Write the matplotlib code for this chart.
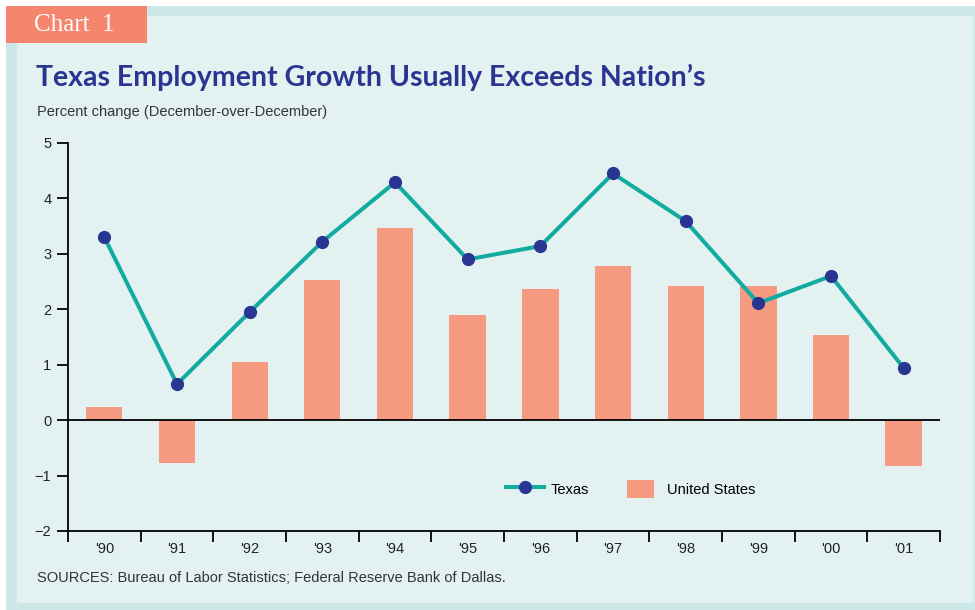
import matplotlib.pyplot as plt
from matplotlib.patches import Rectangle
from matplotlib.lines import Line2D
from matplotlib.patches import Patch
from matplotlib.legend_handler import HandlerPatch
import matplotlib.ticker as mticker

years = ["'90", "'91", "'92", "'93", "'94", "'95", "'96", "'97", "'98", "'99", "'00", "'01"]
texas = [3.30, 0.65, 1.95, 3.22, 4.29, 2.90, 3.14, 4.45, 3.59, 2.11, 2.60, 0.94]
us = [0.23, -0.78, 1.05, 2.53, 3.47, 1.90, 2.36, 2.78, 2.42, 2.42, 1.53, -0.83]

plt.rcParams["font.family"] = ["Liberation Sans", "DejaVu Sans"]

frame_col = "#cce8e8"
panel_col = "#e3f2f1"
bar_col = "#f69a82"
line_col = "#12aba0"
dot_col = "#283593"
navy = "#2a3592"
fs = 10.5


def small_box(legend, orig_handle, xdescent, ydescent, width, height, fontsize):
    # narrower swatch than the line handle
    return Rectangle((-xdescent + width * 0.15, -ydescent), width * 0.7, height)


fig = plt.figure(figsize=(9.75, 6.1), dpi=100)
fig.patch.set_facecolor("white")

# frame and panel
fig.patches.append(Rectangle((6 / 975, 0), 969 / 975, 604 / 610, transform=fig.transFigure,
                             facecolor=frame_col, edgecolor="none", zorder=-3))
fig.patches.append(Rectangle((17 / 975, 7 / 610), 956 / 975, 587 / 610, transform=fig.transFigure,
                             facecolor=panel_col, edgecolor="none", zorder=-2))
fig.patches.append(Rectangle((6 / 975, 1 - 43 / 610), 141 / 975, 37 / 610, transform=fig.transFigure,
                             facecolor="#f5856c", edgecolor="none", zorder=-1))
fig.text(34 / 975, 1 - 25 / 610, "Chart  1", color="white", fontsize=18,
         family=["Liberation Serif", "DejaVu Serif"], va="center", ha="left")

fig.text(36 / 975, 1 - 77 / 610, "Texas Employment Growth Usually Exceeds Nation\u2019s",
         color=navy, fontsize=20.5, fontweight="bold", family=["Lato", "DejaVu Sans"],
         va="center", ha="left")
fig.text(37 / 975, 1 - 112 / 610, "Percent change (December-over-December)",
         color="#333333", fontsize=fs, va="center", ha="left")
fig.text(37 / 975, 1 - 578 / 610, "SOURCES: Bureau of Labor Statistics; Federal Reserve Bank of Dallas.",
         color="#333333", fontsize=fs, va="center", ha="left")

ax = fig.add_axes([68 / 975, 1 - 531 / 610, 872 / 975, 388 / 610])
ax.set_zorder(2)
ax.set_facecolor("none")
x = list(range(len(years)))
ax.bar(x, us, width=0.5, color=bar_col, zorder=2)
ax.plot(x, texas, color=line_col, linewidth=2.9, marker="o", markersize=8.5,
        markerfacecolor=dot_col, markeredgecolor=dot_col, zorder=3)
ax.axhline(0, color="black", linewidth=1.3, zorder=2.5)

ax.set_xlim(-0.5, 11.5)
ax.set_ylim(-2, 5)
ax.set_xticks(x)
ax.set_xticklabels(years)
ax.xaxis.set_minor_locator(mticker.FixedLocator([i - 0.5 for i in range(13)]))
ax.tick_params(axis="x", which="major", length=0, pad=8, labelsize=fs, labelcolor="#222222")
ax.tick_params(axis="x", which="minor", length=8, width=1.3, direction="out", color="black")
ax.set_yticks(range(-2, 6))
ax.tick_params(axis="y", length=8, width=1.3, pad=4, labelsize=fs, labelcolor="#222222", color="black")
for s in ["top", "right"]:
    ax.spines[s].set_visible(False)
for s in ["left", "bottom"]:
    ax.spines[s].set_linewidth(1.3)

handles = [
    Line2D([], [], color=line_col, linewidth=2.9, marker="o", markersize=8.5,
           markerfacecolor=dot_col, markeredgecolor=dot_col),
    Patch(facecolor=bar_col, edgecolor="none"),
]
ax.legend(handles, ["Texas", "United States"], ncol=2, frameon=False, fontsize=fs,
          loc="center", bbox_to_anchor=(0.645, 0.108), handlelength=2.6, handleheight=1.5,
          columnspacing=2.2, handletextpad=0.5,
          handler_map={Patch: HandlerPatch(patch_func=small_box)})

fig.savefig("out.png", dpi=100, facecolor=fig.get_facecolor())
